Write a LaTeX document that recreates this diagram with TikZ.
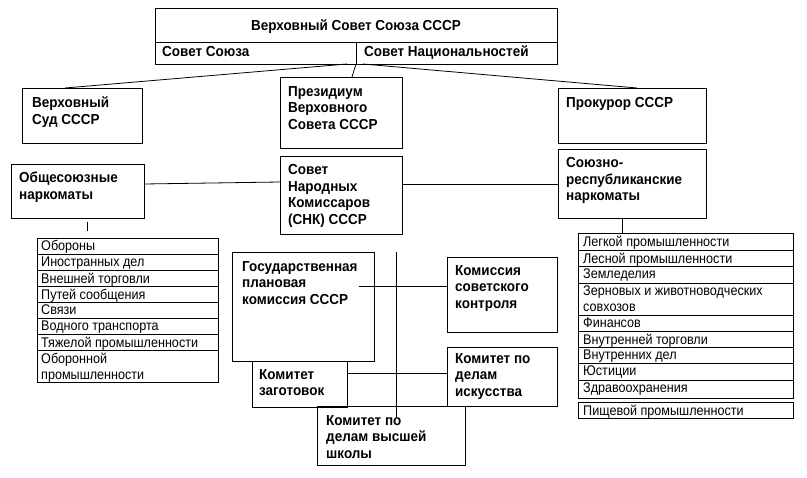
\documentclass[tikz,border=0pt]{standalone}
\usepackage{fontspec}
\setmainfont{Liberation Sans}
\newfontfamily\narrowf[FakeStretch=0.9]{Liberation Sans}
\newfontfamily\narrowb[FakeStretch=0.93]{Liberation Sans Bold}
\begin{document}
\begin{tikzpicture}[x=1pt,y=-1pt,
  box/.style={draw,line width=0.8pt,inner sep=0pt,outer sep=0pt,anchor=north west},
  bt/.style={anchor=north west,inner sep=0pt,align=left,font=\narrowb\fontsize{14.5}{16.8}\selectfont},
  lt/.style={anchor=north west,inner sep=0pt,align=left,font=\narrowf\fontsize{14}{16}\selectfont},
  ln/.style={line width=0.8pt}]
\useasboundingbox (0,0) rectangle (807,478);
\newcommand\bx[5]{\node[box,minimum width={#4-#2},minimum height={#5-#3}] (#1) at (#2,#3) {};}
% top
\bx{top}{155}{8}{557}{64}
\draw[ln] (155,42) -- (557,42);
\draw[ln] (356,42) -- (356,64);
\node[bt,anchor=center] (tt) at (356,27) {Верховный Совет Союза СССР};
\node[bt] (tl) at (162,46) {Совет Союза};
\node[bt] (tr) at (364,46) {Совет Национальностей};
\coordinate (c1) at (347,64);\coordinate (c2) at (356,64);\coordinate (c3) at (363,64);
% second row
\bx{sud}{22}{88}{142}{143}
\node[bt] (sudt) at (32,97) {Верховный\\Суд СССР};
\bx{pres}{280}{77}{402}{148}
\node[bt] (prest) at (288,86) {Президиум\\Верховного\\Совета СССР};
\bx{prok}{558}{88}{706}{143}
\node[bt] (prokt) at (566,97) {Прокурор СССР};
\draw[ln] (c1) -- (65,88);
\draw[ln] (c2) -- (352,77);
\draw[ln] (c3) -- (637,88);
% third row
\bx{obsh}{11}{164}{144}{218}
\node[bt] (obsht) at (19,172) {Общесоюзные\\наркоматы};
\bx{snk}{280}{156}{402}{234}
\node[bt] (snkt) at (288,164) {Совет\\Народных\\Комиссаров\\(СНК) СССР};
\bx{sr}{558}{149}{706}{218}
\node[bt] (srt) at (566,157) {Союзно-\\республиканские\\наркоматы};
\draw[ln] (obsh.east |- 0,184) -- (snk.west |- 0,182);
\draw[ln] (snk.east |- 0,184) -- (sr.west |- 0,184);
\coordinate (o1) at (87,222);\coordinate (o2) at (87,231);
\draw[ln] (o1) -- (o2);
\coordinate (s1) at (622,218);\coordinate (s2) at (622,233);
\draw[ln] (s1) -- (s2);
% left list
\bx{L1}{37}{238}{218}{254}\node[lt] (l1) at (41,240.5) {Обороны};
\bx{L2}{37}{254}{218}{270}\node[lt] (l2) at (41,256.5) {Иностранных дел};
\bx{L3}{37}{270}{218}{286}\node[lt] (l3) at (41,272.5) {Внешней торговли};
\bx{L4}{37}{286}{218}{302}\node[lt] (l4) at (41,288.5) {Путей сообщения};
\bx{L5}{37}{302}{218}{318}\node[lt] (l5) at (41,304.5) {Связи};
\bx{L6}{37}{318}{218}{334}\node[lt] (l6) at (41,320.5) {Водного транспорта};
\bx{L7}{37}{334}{218}{350}\node[lt] (l7) at (41,336.5) {Тяжелой промышленности};
\bx{L8}{37}{350}{218}{382}\node[lt] (l8) at (41,352.5) {Оборонной\\промышленности};
% right list
\bx{R1}{578}{233}{793}{250}\node[lt] (r1) at (583,236) {Легкой промышленности};
\bx{R2}{578}{250}{793}{266}\node[lt] (r2) at (583,252.5) {Лесной промышленности};
\bx{R3}{578}{266}{793}{283}\node[lt] (r3) at (583,268.5) {Земледелия};
\bx{R4}{578}{283}{793}{315}\node[lt] (r4) at (583,285.5) {Зерновых и животноводческих\\совхозов};
\bx{R5}{578}{315}{793}{331}\node[lt] (r5) at (583,317.5) {Финансов};
\bx{R6}{578}{331}{793}{347}\node[lt] (r6) at (583,333.5) {Внутренней торговли};
\bx{R7}{578}{347}{793}{363}\node[lt] (r7) at (583,349.5) {Внутренних дел};
\bx{R8}{578}{363}{793}{380}\node[lt] (r8) at (583,365.5) {Юстиции};
\bx{R9}{578}{380}{793}{398}\node[lt] (r9) at (583,382.5) {Здравоохранения};
\bx{R10}{578}{402}{793}{418}\node[lt] (r10) at (583,404.5) {Пищевой промышленности};
% committees
\bx{gos}{232}{252}{374}{361}
\node[bt] (gost) at (242,261) {Государственная\\плановая\\комиссия СССР};
\bx{kom}{447}{257}{557}{332}
\node[bt] (komt) at (455,265) {Комиссия\\советского\\контроля};
\coordinate (g1) at (359,286);
\draw[ln] (g1) -- (kom.west |- 0,286);
\bx{zag}{252}{361}{347}{407}
\node[bt] (zagt) at (259,369) {Комитет\\заготовок};
\bx{isk}{447}{347}{557}{406}
\node[bt] (iskt) at (455,353) {Комитет по\\делам\\искусства};
\draw[ln] (zag.east |- 0,373) -- (isk.west |- 0,373);
\bx{vsh}{317}{406}{465}{465}
\node[bt] (vsht) at (326,415) {Комитет по\\делам высшей\\школы};
\coordinate (v1) at (396,252);\coordinate (v2) at (396,417);
\draw[ln] (v1) -- (v2);
\end{tikzpicture}
\end{document}
